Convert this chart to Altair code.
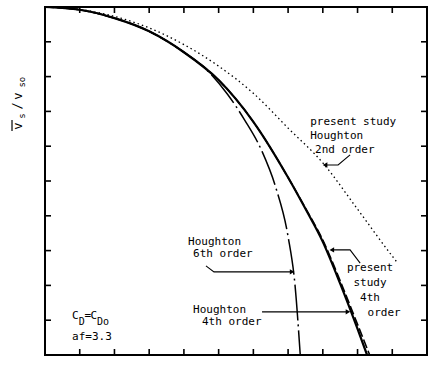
import altair as alt
import pandas as pd

# alpha/a positions and velocity ratio along each curve
x_present4 = [0.0, 0.2, 0.4, 0.6, 0.8, 1.0, 1.2, 1.4, 1.5, 1.6, 1.7, 1.8, 1.855]
y_present4 = [1.0, 0.992, 0.968, 0.93, 0.87, 0.79, 0.67, 0.51, 0.42, 0.325, 0.205, 0.075, 0.0]

x_hough4 = [0.0, 0.2, 0.4, 0.6, 0.8, 1.0, 1.2, 1.4, 1.5, 1.6, 1.7, 1.8, 1.87]
y_hough4 = [1.0, 0.992, 0.968, 0.93, 0.87, 0.79, 0.67, 0.51, 0.422, 0.33, 0.213, 0.088, 0.0]

x_hough6 = [0.0, 0.2, 0.4, 0.6, 0.8, 0.95, 1.05, 1.15, 1.25, 1.33, 1.4, 1.44, 1.47]
y_hough6 = [1.0, 0.992, 0.968, 0.93, 0.87, 0.81, 0.75, 0.675, 0.585, 0.48, 0.34, 0.2, 0.0]

x_second = [0.0, 0.2, 0.4, 0.6, 0.8, 1.0, 1.2, 1.4, 1.6, 1.8, 2.0, 2.03]
y_second = [1.0, 0.993, 0.973, 0.94, 0.892, 0.83, 0.752, 0.652, 0.552, 0.419, 0.284, 0.265]

# frame tick positions
x_ticks = [0.2, 0.4, 0.6, 0.8, 1.0, 1.2, 1.4, 1.6, 1.8, 2.0]
y_ticks = [0.1, 0.2, 0.3, 0.4, 0.5, 0.6, 0.7, 0.8, 0.9]

# annotation text: label, x, y, align, size
notes = [
    ("present study", 1.527, 0.670, "left", 11),
    ("Houghton", 1.527, 0.629, "left", 11),
    ("2nd order", 1.555, 0.589, "left", 11),
    ("Houghton", 0.824, 0.325, "left", 11),
    ("6th order", 0.853, 0.290, "left", 11),
    ("Houghton", 0.853, 0.129, "left", 11),
    ("4th order", 0.904, 0.095, "left", 11),
    ("present", 1.872, 0.250, "center", 11),
    ("study", 1.872, 0.207, "center", 11),
    ("4th", 1.872, 0.164, "center", 11),
    ("order", 1.953, 0.121, "center", 11),
    ("C", 0.156, 0.112, "left", 11),
    ("D", 0.195, 0.096, "left", 10),
    ("=", 0.228, 0.112, "left", 11),
    ("C", 0.262, 0.112, "left", 11),
    ("Do", 0.300, 0.096, "left", 10),
    ("af=3.3", 0.156, 0.052, "left", 11),
]

# rotated y-axis title pieces: text, x, y, size
ytitle = [
    ("v", -0.158, 0.658, 12),
    ("s", -0.132, 0.687, 9),
    ("/", -0.161, 0.716, 12),
    ("v", -0.158, 0.744, 12),
    ("so", -0.132, 0.784, 9),
]

# leader lines: group, x, y (last point is the arrow tip)
leaders = [
    ("a", 1.757, 0.575), ("a", 1.688, 0.546), ("a", 1.613, 0.546),
    ("b", 0.927, 0.256), ("b", 0.973, 0.239), ("b", 1.423, 0.239),
    ("c", 1.250, 0.124), ("c", 1.745, 0.124),
    ("d", 1.815, 0.264), ("d", 1.757, 0.302), ("d", 1.652, 0.302),
]
heads = [
    (1.613, 0.546, "triangle-left"),
    (1.423, 0.239, "triangle-right"),
    (1.745, 0.124, "triangle-right"),
    (1.652, 0.302, "triangle-left"),
]

FONT = "DejaVu Sans Mono"
INK = "black"
W, H = 382, 348
X_MAX, Y_MAX = 2.2, 1.0
TICK = 6

xs = alt.Scale(domain=[0, X_MAX], nice=False, zero=False)
ys = alt.Scale(domain=[0, Y_MAX], nice=False, zero=False)

ax_x = alt.Axis(values=[0, 1, 2], format="d", tickSize=0, domain=False, grid=False,
                labelFlush=False, labelPadding=5, labelFont=FONT, labelFontSize=12,
                labelColor=INK, title="α/a", titleFont="Liberation Serif",
                titleFontSize=13, titleFontWeight="normal", titleColor=INK,
                titleX=255, titleY=20, titleBaseline="middle")
ax_y = alt.Axis(values=[0.5, 1.0], format=".1f", tickSize=0, domain=False, grid=False,
                labelFlush=True, labelPadding=4, labelFont=FONT, labelFontSize=12,
                labelColor=INK, title=None)


def curve(xv, yv, width, dash=None, axes=False):
    df = pd.DataFrame({"x": xv, "y": yv, "i": range(len(xv))})
    kw = dict(color=INK, strokeWidth=width, interpolate="monotone")
    if dash:
        kw["strokeDash"] = dash
    return alt.Chart(df).mark_line(**kw).encode(
        x=alt.X("x:Q", scale=xs, axis=ax_x if axes else None),
        y=alt.Y("y:Q", scale=ys, axis=ax_y if axes else None),
        order="i:Q",
    )


present4 = curve(x_present4, y_present4, 2.2, axes=True)
hough4 = curve(x_hough4, y_hough4, 1.6, [9, 3])
hough6 = curve(x_hough6, y_hough6, 1.5, [36, 4, 2, 4])
second = curve(x_second, y_second, 1.3, [1.5, 3])

# inward frame ticks as short rules, lengths in data units
ty, tx = TICK * Y_MAX / H, TICK * X_MAX / W
nx, ny = len(x_ticks), len(y_ticks)
vt = pd.DataFrame({"x": x_ticks * 2,
                   "y": [0.0] * nx + [Y_MAX] * nx,
                   "y2": [ty] * nx + [Y_MAX - ty] * nx})
ht = pd.DataFrame({"y": y_ticks * 2,
                   "x": [0.0] * ny + [X_MAX] * ny,
                   "x2": [tx] * ny + [X_MAX - tx] * ny})
vrules = alt.Chart(vt).mark_rule(color=INK, strokeWidth=1.6).encode(
    x=alt.X("x:Q", scale=xs), y=alt.Y("y:Q", scale=ys), y2="y2:Q")
hrules = alt.Chart(ht).mark_rule(color=INK, strokeWidth=1.6).encode(
    y=alt.Y("y:Q", scale=ys), x=alt.X("x:Q", scale=xs), x2="x2:Q")

ldf = pd.DataFrame(leaders, columns=["g", "x", "y"])
ldf["i"] = range(len(ldf))
leader_lines = alt.Chart(ldf).mark_line(color=INK, strokeWidth=1.1).encode(
    x=alt.X("x:Q", scale=xs), y=alt.Y("y:Q", scale=ys), detail="g:N", order="i:Q")

hdf = pd.DataFrame(heads, columns=["x", "y", "shape"])
arrow_heads = alt.Chart(hdf).mark_point(filled=True, size=28, color=INK, opacity=1).encode(
    x=alt.X("x:Q", scale=xs), y=alt.Y("y:Q", scale=ys),
    shape=alt.Shape("shape:N", scale=None))

ndf = pd.DataFrame(notes, columns=["t", "x", "y", "align", "size"])
note_layers = []
for (al, sz), g in ndf.groupby(["align", "size"]):
    note_layers.append(
        alt.Chart(g.reset_index(drop=True)).mark_text(
            font=FONT, fontSize=sz, align=al, baseline="middle", color=INK).encode(
            x=alt.X("x:Q", scale=xs), y=alt.Y("y:Q", scale=ys), text="t:N"))

tdf = pd.DataFrame(ytitle, columns=["t", "x", "y", "size"])
title_layers = []
for sz, g in tdf.groupby("size"):
    title_layers.append(
        alt.Chart(g.reset_index(drop=True)).mark_text(
            font=FONT, fontSize=sz, angle=270, align="center",
            baseline="middle", color=INK).encode(
            x=alt.X("x:Q", scale=xs), y=alt.Y("y:Q", scale=ys), text="t:N"))

overline = alt.Chart(pd.DataFrame({"x": [-0.19], "y": [0.644], "y2": [0.675]})).mark_rule(
    color=INK, strokeWidth=1.2).encode(
    x=alt.X("x:Q", scale=xs), y=alt.Y("y:Q", scale=ys), y2="y2:Q")

chart = alt.layer(
    present4, hough4, hough6, second,
    vrules, hrules,
    leader_lines, arrow_heads, overline,
    *note_layers, *title_layers,
).properties(
    width=W, height=H,
    autosize=alt.AutoSizeParams(type="none"),
    padding={"left": 45, "top": 7, "right": 4, "bottom": 26},
    background="white",
).configure_view(stroke="black", strokeWidth=2)

chart.save("out.html", embed_options={"renderer": "svg", "actions": False})
